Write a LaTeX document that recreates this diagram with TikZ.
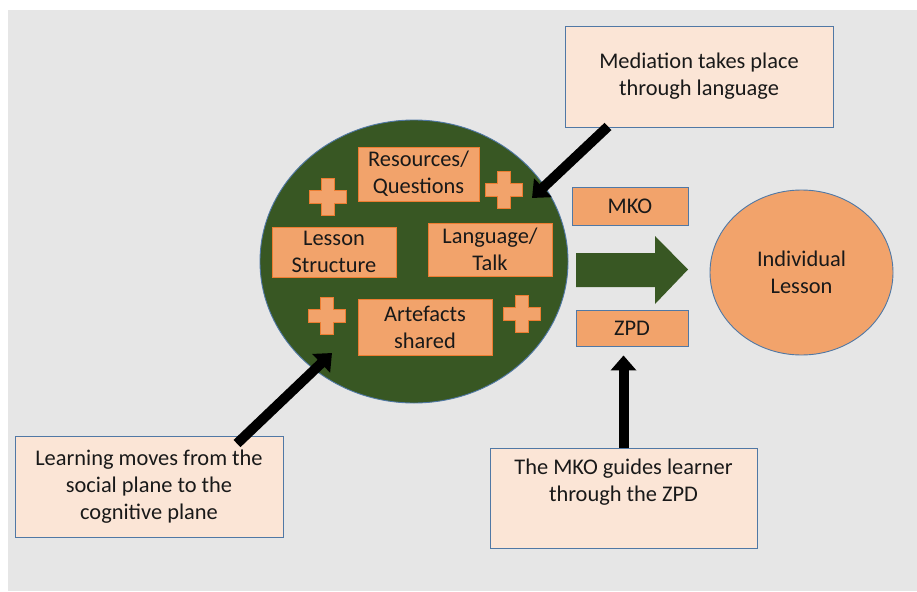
\documentclass[tikz,border=0pt]{standalone}
\usepackage{fontspec}
\setmainfont{Carlito}
\usepackage{tikz}
\usetikzlibrary{arrows.meta,shapes.geometric}
\definecolor{bggray}{RGB}{230,230,230}
\definecolor{leafgreen}{RGB}{56,87,35}
\definecolor{peach}{RGB}{242,163,107}
\definecolor{peachline}{RGB}{237,125,49}
\definecolor{paleorange}{RGB}{251,229,214}
\definecolor{steelblue}{RGB}{80,120,165}

\begin{document}
\begin{tikzpicture}[x=1pt,y=-1pt,
  every node/.style={font=\fontsize{22.4}{27}\selectfont,align=center,inner sep=0pt,text=black!90},
  notebox/.style={rectangle,draw=steelblue,fill=paleorange,line width=0.9pt,minimum width=268pt,minimum height=101pt},
  idea/.style={rectangle,draw=peachline,fill=peach,line width=0.9pt},
  tag/.style={rectangle,draw=steelblue,fill=peach,line width=0.9pt},
  pointer/.style={line width=10pt,-{Triangle[width=25pt,length=15pt]}},
  cross/.pic={\path[fill=peach,draw=peachline,line width=0.9pt]
    (-6.5,-18.5) -- (6.5,-18.5) -- (6.5,-6.5) -- (18.5,-6.5) -- (18.5,6.5) -- (6.5,6.5)
    -- (6.5,18.5) -- (-6.5,18.5) -- (-6.5,6.5) -- (-18.5,6.5) -- (-18.5,-6.5) -- (-6.5,-6.5) -- cycle;}]
\useasboundingbox (0,0) rectangle (917,591);
\fill[bggray] (8,10) rectangle (917,591);

% social plane
\node[ellipse,draw=steelblue,fill=leafgreen,line width=0.9pt,minimum width=308pt,minimum height=283pt] (social) at (414,261.5) {};
\node[idea,minimum width=121pt,minimum height=54pt] (resources) at (418.5,174) {Resources/\\Questions};
\node[idea,minimum width=124pt,minimum height=50pt] (structure) at (334,252) {Lesson\\Structure};
\node[idea,minimum width=124pt,minimum height=53pt] (talk) at (490,249.5) {Language/\\Talk};
\node[idea,minimum width=134pt,minimum height=56pt] (artefacts) at (425,327) {Artefacts\\shared};
\foreach \p in {(327.5,196.5),(503.5,190),(326.5,316),(522,314)}
  \pic at \p {cross};

% towards the individual
\node[tag,minimum width=116pt,minimum height=38pt] (mko) at (630,206) {MKO};
\node[tag,minimum width=112pt,minimum height=36pt] (zpd) at (632,328) {ZPD};
\node[ellipse,draw=steelblue,fill=peach,line width=0.9pt,minimum width=183pt,minimum height=165pt] (individual) at (801.5,272.5) {Individual\\Lesson};
\fill[leafgreen] (576,253) -- (655,253) -- (655,236) -- (688,269.5) -- (655,304) -- (655,287) -- (576,287) -- cycle;

% notes
\node[notebox] (mediation) at (699,76.5) {Mediation takes place\\through language};
\node[notebox] (learning) at (149,486.5) {Learning moves from the\\social plane to the\\cognitive plane};
\node[notebox,minimum width=267pt,minimum height=100pt] (guides) at (623.5,498) {The MKO guides learner\\through the ZPD\\\strut};

\coordinate (medtip) at (532,198);
\coordinate (learntip) at (332,353);
\draw[pointer] ([xshift=-91pt,yshift=1pt]mediation.south) -- (medtip);
\draw[pointer] ([xshift=88pt,yshift=-8pt]learning.north) -- (learntip);
\draw[pointer] (guides.north) -- ([yshift=-9pt]zpd.south -| guides.north);
\end{tikzpicture}
\end{document}
